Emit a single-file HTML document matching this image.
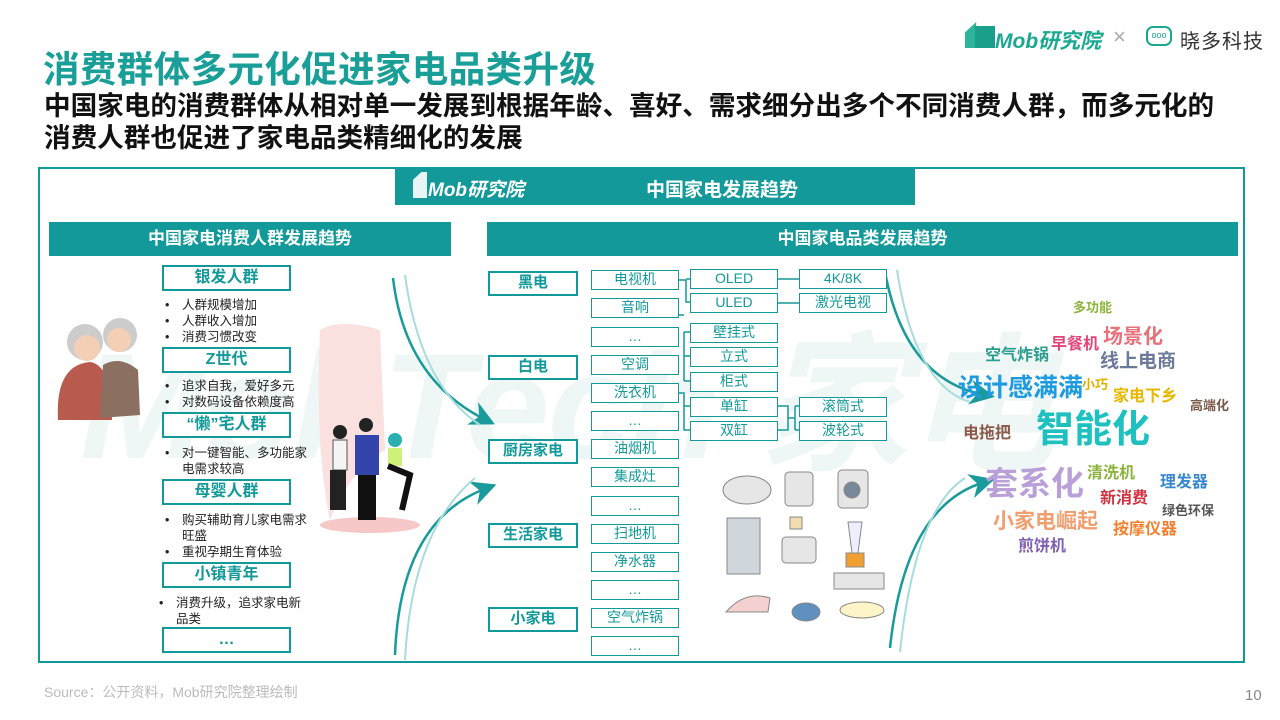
<!DOCTYPE html>
<html><head><meta charset="utf-8"><style>
*{margin:0;padding:0;box-sizing:border-box}
body{width:1280px;height:720px;position:relative;background:#fff;font-family:"Liberation Sans","Noto Sans CJK SC",sans-serif;overflow:hidden}
.a{position:absolute}
.t{color:#1a9e98;font-weight:bold}
.bar{position:absolute;background:#13999a;color:#fff;font-weight:bold;text-align:center}
.pb{position:absolute;left:162px;width:129px;height:26px;border:2.5px solid #13999a;color:#13999a;font-weight:bold;font-size:16px;text-align:center;line-height:21px;background:#fff}
.bl{position:absolute;font-size:12.5px;color:#222;line-height:16px}
.bl i{position:absolute;left:-17px;font-style:normal}
.cb{position:absolute;left:488px;width:90px;height:25px;border:2.5px solid #13999a;color:#13999a;font-weight:bold;font-size:15px;text-align:center;line-height:20px;background:#fff}
.ib{position:absolute;height:20px;width:88px;border:1.5px solid #13999a;color:#13999a;font-size:14px;text-align:center;line-height:17px;background:#fff}
.w{position:absolute;font-weight:bold;white-space:nowrap;line-height:1}
</style></head><body>
<div class="a t" style="left:43px;top:40px;font-size:36.6px;letter-spacing:0.3px">消费群体多元化促进家电品类升级</div>
<div class="a" style="left:44px;top:90px;font-size:26.6px;font-weight:bold;line-height:32px;color:#111;white-space:nowrap">中国家电的消费群体从相对单一发展到根据年龄、喜好、需求细分出多个不同消费人群，而多元化的<br>消费人群也促进了家电品类精细化的发展</div>
<div class="a" style="left:965px;top:22px;width:28px;height:26px;background:#2bb59a;clip-path:polygon(0 40%,40% 0,40% 100%,0 100%)"></div>
<div class="a" style="left:975px;top:26px;width:20px;height:22px;background:#1aa08a"></div>
<div class="a" style="left:995px;top:25px;font-size:21px;font-weight:bold;font-style:italic;color:#1aa890">Mob研究院</div>
<div class="a" style="left:1113px;top:24px;font-size:22px;color:#aaa">×</div>
<div class="a" style="left:1146px;top:26px;width:26px;height:20px;border:2px solid #1aa890;border-radius:7px;font-size:9px;color:#1aa890;text-align:center;line-height:14px">ooo</div>
<div class="a" style="left:1180px;top:25px;font-size:20px;color:#333;letter-spacing:1px">晓多科技</div>

<div class="a" style="left:38px;top:167px;width:1207px;height:496px;border:2px solid #13999a"></div>
<div class="a" style="left:80px;top:285px;font-size:150px;font-weight:bold;font-style:italic;color:#eef7f5;white-space:nowrap;letter-spacing:-2px">MobTech 家电</div>
<div class="bar" style="left:395px;top:168px;width:520px;height:37px"></div>
<div class="a" style="left:413px;top:172px;width:14px;height:26px;background:#fff;opacity:.9;clip-path:polygon(0 30%,60% 0,100% 0,100% 100%,0 100%)"></div>
<div class="a" style="left:428px;top:175px;font-size:19px;font-weight:bold;font-style:italic;color:#fff">Mob研究院</div>
<div class="a" style="left:646px;top:175px;font-size:19px;font-weight:bold;color:#fff">中国家电发展趋势</div>
<div class="bar" style="left:49px;top:222px;width:402px;height:34px;font-size:17px;line-height:34px">中国家电消费人群发展趋势</div>
<div class="bar" style="left:487px;top:222px;width:751px;height:34px;font-size:17px;line-height:34px">中国家电品类发展趋势</div>

<svg class="a" style="left:0;top:0" width="1280" height="720">
<defs><marker id="ar" markerWidth="10" markerHeight="10" refX="6" refY="5" orient="auto"><path d="M0,0 L10,5 L0,10 L3,5z" fill="#1a9a9a"/></marker></defs>
<circle cx="85" cy="342" r="18" fill="#ccc"/><circle cx="120" cy="335" r="17" fill="#ccc"/>
<circle cx="87" cy="348" r="13" fill="#f3cfb5"/><circle cx="119" cy="340" r="12" fill="#f3cfb5"/>
<path d="M58 420 Q55 365 90 362 Q112 365 112 420z" fill="#b85a4e"/>
<path d="M100 418 L103 365 Q120 355 138 370 L140 415z" fill="#8b6f60"/>
<path d="M320 330 Q340 318 380 330 L385 450 Q350 470 330 520 Q315 450 320 330z" fill="#fbe0e0"/>
<ellipse cx="370" cy="525" rx="50" ry="8" fill="#f7c8c8"/>
<circle cx="340" cy="432" r="7" fill="#222"/><rect x="333" y="440" width="14" height="30" fill="#f4f4f4" stroke="#555"/><rect x="330" y="470" width="16" height="40" fill="#222"/>
<circle cx="366" cy="425" r="7" fill="#222"/><rect x="355" y="435" width="24" height="40" fill="#3344aa"/><rect x="358" y="475" width="18" height="45" fill="#111"/>
<circle cx="395" cy="440" r="7" fill="#2ab0b0"/><rect x="388" y="448" width="14" height="18" fill="#cef27a"/><path d="M388 466 L410 475 L402 510" stroke="#111" stroke-width="6" fill="none"/>
<path d="M393 278 Q405 380 486 420" stroke="#1a9a9a" stroke-width="2.5" fill="none" marker-end="url(#ar)"/>
<path d="M405 275 Q420 385 480 425" stroke="#a8dcdc" stroke-width="2" fill="none"/>
<path d="M395 655 Q400 520 487 488" stroke="#1a9a9a" stroke-width="2.5" fill="none" marker-end="url(#ar)"/>
<path d="M405 660 Q412 530 475 478" stroke="#a8dcdc" stroke-width="2" fill="none"/>
<path d="M885 272 Q905 380 985 395" stroke="#1a9a9a" stroke-width="2.5" fill="none" marker-end="url(#ar)"/>
<path d="M897 270 Q915 385 970 402" stroke="#a8dcdc" stroke-width="2" fill="none"/>
<path d="M890 648 Q905 505 985 482" stroke="#1a9a9a" stroke-width="2.5" fill="none" marker-end="url(#ar)"/>
<path d="M900 652 Q915 510 965 478" stroke="#a8dcdc" stroke-width="2" fill="none"/>
<g stroke="#13999a" stroke-width="1.5" fill="none">
<path d="M679 280 H686 M686 280 V302 H690 M686 279 H690"/>
<path d="M778 279 H799 M778 303 H799"/>
<path d="M679 315 H684 M684 332 V381 M684 332 H690 M684 356 H690 M684 381 H690"/>
<path d="M679 393 H684 V430 H690 M684 406 H690"/>
<path d="M778 406 H788 V430 H778 M788 418 H795 M795 406 V430 M795 406 H799 M795 430 H799"/>
</g>
<g fill="#e6e6e6" stroke="#888" stroke-width="1">
<ellipse cx="747" cy="490" rx="24" ry="14"/><rect x="785" y="472" width="28" height="34" rx="4"/><rect x="838" y="470" width="30" height="38" rx="4"/>
<circle cx="852" cy="490" r="8" fill="#789"/>
<rect x="727" y="518" width="33" height="56" fill="#cfd6dc"/><rect x="782" y="537" width="34" height="26" rx="4"/><rect x="790" y="517" width="12" height="12" fill="#f3dcb0"/>
<path d="M848 522 H862 L858 553 H852z" fill="#eef"/><rect x="846" y="553" width="18" height="14" fill="#f0a030"/>
<rect x="834" y="573" width="50" height="16"/><path d="M726 612 Q745 590 770 598 L768 612z" fill="#f5d0d0"/>
<ellipse cx="806" cy="612" rx="14" ry="9" fill="#6090c0"/><ellipse cx="862" cy="610" rx="22" ry="8" fill="#fdf5c8"/>
</g>
</svg>

<div class="pb" style="top:265px">银发人群</div>
<div class="bl" style="left:182px;top:297px"><i>•</i>人群规模增加<br><i>•</i>人群收入增加<br><i>•</i>消费习惯改变</div>
<div class="pb" style="top:347px">Z世代</div>
<div class="bl" style="left:182px;top:378px"><i>•</i>追求自我，爱好多元<br><i>•</i>对数码设备依赖度高</div>
<div class="pb" style="top:412px">“懒”宅人群</div>
<div class="bl" style="left:182px;top:445px;width:130px"><i>•</i>对一键智能、多功能家电需求较高</div>
<div class="pb" style="top:479px">母婴人群</div>
<div class="bl" style="left:182px;top:512px;width:130px"><i>•</i>购买辅助育儿家电需求旺盛<br><i>•</i>重视孕期生育体验</div>
<div class="pb" style="top:562px">小镇青年</div>
<div class="bl" style="left:176px;top:595px;width:135px"><i>•</i>消费升级，追求家电新品类</div>
<div class="pb" style="top:627px">…</div>

<div class="cb" style="top:271px">黑电</div>
<div class="cb" style="top:355px">白电</div>
<div class="cb" style="top:439px">厨房家电</div>
<div class="cb" style="top:523px">生活家电</div>
<div class="cb" style="top:607px">小家电</div>

<div class="ib" style="left:591px;top:270px">电视机</div>
<div class="ib" style="left:591px;top:298px">音响</div>
<div class="ib" style="left:591px;top:327px">…</div>
<div class="ib" style="left:591px;top:355px">空调</div>
<div class="ib" style="left:591px;top:383px">洗衣机</div>
<div class="ib" style="left:591px;top:411px">…</div>
<div class="ib" style="left:591px;top:439px">油烟机</div>
<div class="ib" style="left:591px;top:467px">集成灶</div>
<div class="ib" style="left:591px;top:496px">…</div>
<div class="ib" style="left:591px;top:524px">扫地机</div>
<div class="ib" style="left:591px;top:552px">净水器</div>
<div class="ib" style="left:591px;top:580px">…</div>
<div class="ib" style="left:591px;top:608px">空气炸锅</div>
<div class="ib" style="left:591px;top:636px">…</div>

<div class="ib" style="left:690px;top:269px">OLED</div>
<div class="ib" style="left:690px;top:293px">ULED</div>
<div class="ib" style="left:690px;top:323px">壁挂式</div>
<div class="ib" style="left:690px;top:347px">立式</div>
<div class="ib" style="left:690px;top:372px">柜式</div>
<div class="ib" style="left:690px;top:397px">单缸</div>
<div class="ib" style="left:690px;top:421px">双缸</div>
<div class="ib" style="left:799px;top:269px">4K/8K</div>
<div class="ib" style="left:799px;top:293px">激光电视</div>
<div class="ib" style="left:799px;top:397px">滚筒式</div>
<div class="ib" style="left:799px;top:421px">波轮式</div>

<div class="w" style="left:1073px;top:301px;font-size:13px;color:#8cb43c">多功能</div>
<div class="w" style="left:1103px;top:327px;font-size:20px;color:#e8707a">场景化</div>
<div class="w" style="left:1051px;top:337px;font-size:16px;color:#e0457a">早餐机</div>
<div class="w" style="left:985px;top:348px;font-size:16px;color:#2a9d8f">空气炸锅</div>
<div class="w" style="left:1100px;top:352px;font-size:19px;color:#6b7a99">线上电商</div>
<div class="w" style="left:958px;top:376px;font-size:25px;color:#1e9be0">设计感满满</div>
<div class="w" style="left:1082px;top:378px;font-size:13px;color:#e0b000">小巧</div>
<div class="w" style="left:1113px;top:389px;font-size:16px;color:#e8b800">家电下乡</div>
<div class="w" style="left:1190px;top:399px;font-size:13px;color:#7a5a4a">高端化</div>
<div class="w" style="left:1036px;top:411px;font-size:38px;color:#1ec0c0">智能化</div>
<div class="w" style="left:963px;top:426px;font-size:16px;color:#8a5a4a">电拖把</div>
<div class="w" style="left:985px;top:467px;font-size:33px;color:#b9a0d8">套系化</div>
<div class="w" style="left:1087px;top:466px;font-size:16px;color:#8cb43c">清洗机</div>
<div class="w" style="left:1160px;top:475px;font-size:16px;color:#3a88d0">理发器</div>
<div class="w" style="left:1100px;top:491px;font-size:16px;color:#d03040">新消费</div>
<div class="w" style="left:1162px;top:504px;font-size:13px;color:#555">绿色环保</div>
<div class="w" style="left:993px;top:511px;font-size:21px;color:#f0a070">小家电崛起</div>
<div class="w" style="left:1113px;top:522px;font-size:16px;color:#f08030">按摩仪器</div>
<div class="w" style="left:1018px;top:539px;font-size:16px;color:#8060b0">煎饼机</div>

<div class="a" style="left:44px;top:682px;font-size:14px;color:#bbb">Source：公开资料，Mob研究院整理绘制</div>
<div class="a" style="left:1245px;top:687px;font-size:15px;color:#888">10</div>
</body></html>
